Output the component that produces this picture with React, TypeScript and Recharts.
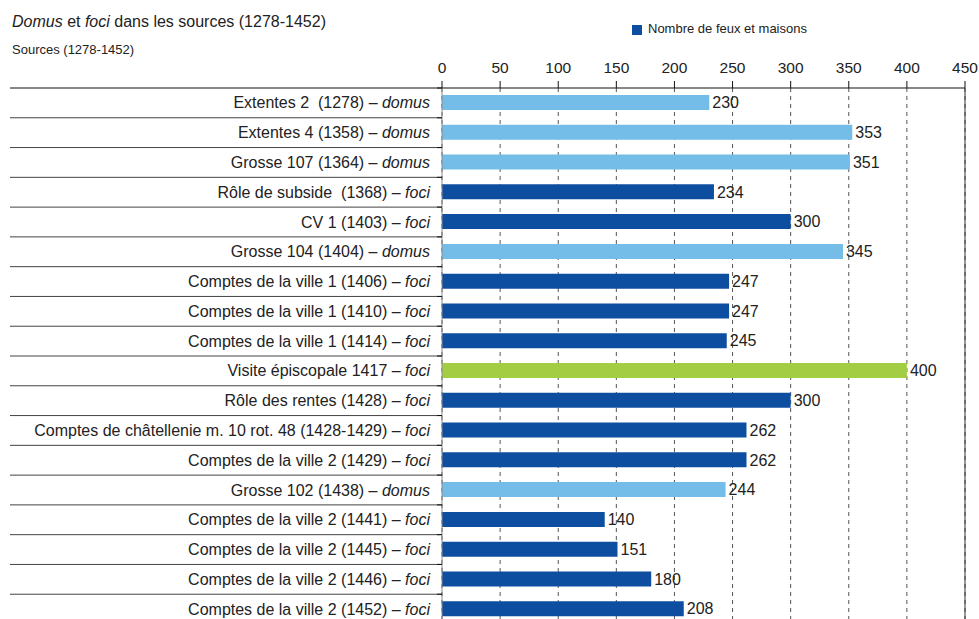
import React from 'react';
import {
  BarChart,
  Bar,
  XAxis,
  YAxis,
  CartesianGrid,
  Cell,
  LabelList,
  Legend,
  ReferenceLine,
} from 'recharts';

// Sources, their date, the unit they count and the count itself
const sources = [
  'Extentes 2  (1278)',
  'Extentes 4 (1358)',
  'Grosse 107 (1364)',
  'Rôle de subside  (1368)',
  'CV 1 (1403)',
  'Grosse 104 (1404)',
  'Comptes de la ville 1 (1406)',
  'Comptes de la ville 1 (1410)',
  'Comptes de la ville 1 (1414)',
  'Visite épiscopale 1417',
  'Rôle des rentes (1428)',
  'Comptes de châtellenie m. 10 rot. 48 (1428-1429)',
  'Comptes de la ville 2 (1429)',
  'Grosse 102 (1438)',
  'Comptes de la ville 2 (1441)',
  'Comptes de la ville 2 (1445)',
  'Comptes de la ville 2 (1446)',
  'Comptes de la ville 2 (1452)',
];

const units = [
  'domus', 'domus', 'domus', 'foci', 'foci', 'domus', 'foci', 'foci', 'foci',
  'foci', 'foci', 'foci', 'foci', 'domus', 'foci', 'foci', 'foci', 'foci',
];

// colour group of each bar: house counts, hearth counts, episcopal visit
const groups = [
  'domus', 'domus', 'domus', 'foci', 'foci', 'domus', 'foci', 'foci', 'foci',
  'visite', 'foci', 'foci', 'foci', 'domus', 'foci', 'foci', 'foci', 'foci',
];

const counts = [230, 353, 351, 234, 300, 345, 247, 247, 245, 400, 300, 262, 262, 244, 140, 151, 180, 208];

const xTicks = [0, 50, 100, 150, 200, 250, 300, 350, 400, 450];

const groupColors: Record<string, string> = {
  domus: '#74BDE8',
  foci: '#0E4EA0',
  visite: '#A3CE44',
};

const data = sources.map((source, i) => ({
  source,
  unit: units[i],
  group: groups[i],
  value: counts[i],
}));

const FONT = '"Liberation Sans", Arial, Helvetica, sans-serif';
const TEXT = '#222';

const WIDTH = 979;
const HEIGHT = 630;
const MARGIN = { top: 58, right: 14, bottom: 6, left: 0 };
const X_AXIS_H = 30;
const Y_AXIS_W = 442;
const PLOT_H = HEIGHT - MARGIN.top - MARGIN.bottom - X_AXIS_H;
const BAND = PLOT_H / data.length;

// Category label: source name in roman, counted unit in italics,
// plus the row separator running from the left edge to the axis
const SourceTick = (props: any) => {
  const { x, y, payload, index } = props;
  const row = data[index] ?? data.find((d) => d.source === payload.value);
  const top = y - BAND / 2;
  return (
    <g>
      <line
        x1={10}
        x2={x}
        y1={top}
        y2={top}
        stroke={index === 0 ? '#111' : '#444'}
        strokeWidth={1}
      />
      <line x1={x - 5} x2={x} y1={top} y2={top} stroke="#111" strokeWidth={1} />
      <text
        x={x - 12}
        y={y}
        dy="0.35em"
        textAnchor="end"
        fill={TEXT}
        fontSize={16}
        fontFamily={FONT}
        style={{ whiteSpace: 'pre' }}
      >
        <tspan>{`${payload.value} – `}</tspan>
        <tspan fontStyle="italic">{row ? row.unit : ''}</tspan>
      </text>
    </g>
  );
};

export default function App() {
  return (
    <div style={{ position: 'absolute', left: 0, top: 0, width: WIDTH, height: HEIGHT }}>
      <BarChart
        width={WIDTH}
        height={HEIGHT}
        data={data}
        layout="vertical"
        margin={MARGIN}
        barSize={15}
      >
        <CartesianGrid
          vertical
          horizontal={false}
          stroke="#555"
          strokeDasharray="4 4"
        />
        <XAxis
          type="number"
          orientation="top"
          domain={[0, 450]}
          ticks={xTicks}
          interval={0}
          height={X_AXIS_H}
          axisLine={{ stroke: '#111' }}
          tickLine={{ stroke: '#111' }}
          tickSize={7}
          tickMargin={8}
          tick={{ fill: TEXT, fontSize: 15.5, fontFamily: FONT }}
        />
        <YAxis
          type="category"
          dataKey="source"
          width={Y_AXIS_W}
          interval={0}
          axisLine={{ stroke: '#888' }}
          tickLine={false}
          tickSize={0}
          tickMargin={0}
          tick={<SourceTick />}
        />
        <ReferenceLine x={450} stroke="#333" strokeWidth={1} ifOverflow="extendDomain" />
        <Legend
          layout="horizontal"
          verticalAlign="middle"
          align="center"
          iconType="square"
          iconSize={10}
          wrapperStyle={{
            top: 21,
            left: 632,
            width: 'auto',
            fontSize: 13,
            fontFamily: FONT,
          }}
          formatter={(value: string) => (
            <span style={{ color: TEXT, marginLeft: 2 }}>{value}</span>
          )}
        />
        <Bar
          dataKey="value"
          name="Nombre de feux et maisons"
          fill={groupColors.foci}
          isAnimationActive={false}
        >
          {data.map((d) => (
            <Cell key={d.source} fill={groupColors[d.group]} />
          ))}
          <LabelList
            dataKey="value"
            position="right"
            offset={3}
            fill={TEXT}
            fontSize={16}
            fontFamily={FONT}
          />
        </Bar>
      </BarChart>
      <svg
        width={WIDTH}
        height={70}
        style={{ position: 'absolute', left: 0, top: 0, pointerEvents: 'none' }}
      >
        <text x={12} y={26.5} fontSize={16} fontFamily={FONT} fill={TEXT}>
          <tspan fontStyle="italic">Domus</tspan>
          <tspan> et </tspan>
          <tspan fontStyle="italic">foci</tspan>
          <tspan> dans les sources (1278-1452)</tspan>
        </text>
        <text x={12} y={54} fontSize={13} fontFamily={FONT} fill={TEXT}>
          Sources (1278-1452)
        </text>
      </svg>
    </div>
  );
}
